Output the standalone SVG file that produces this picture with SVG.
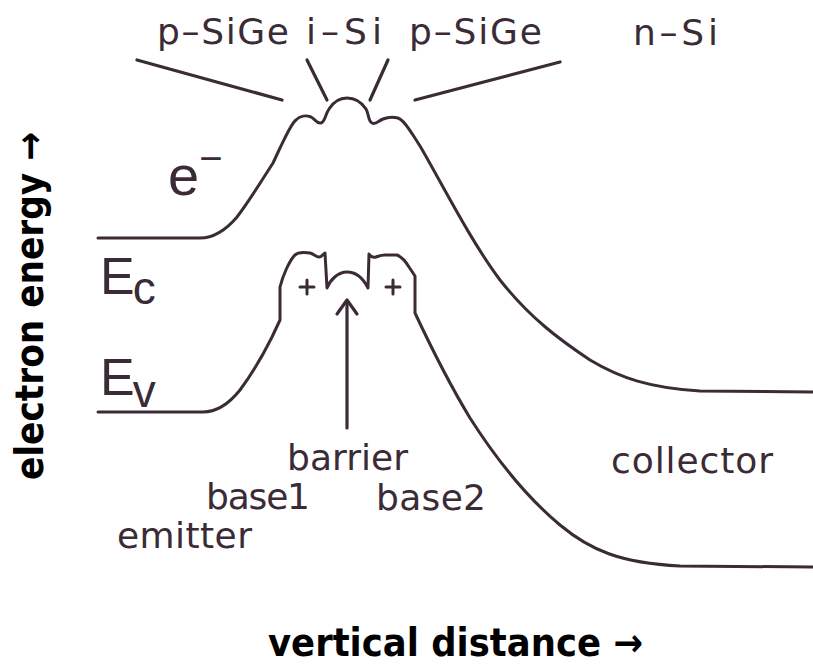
<svg xmlns="http://www.w3.org/2000/svg" width="813" height="666" viewBox="0 0 813 666">
<style>
.band{fill:none;stroke:#3a2b36;stroke-width:3;stroke-linejoin:round;stroke-linecap:round}
.lead{fill:none;stroke:#3a2b36;stroke-width:3.2;stroke-linecap:round}
.lbl{font-family:"DejaVu Sans","Liberation Sans",sans-serif;fill:#3a2b36}
.top{font-size:36px}
.low{font-size:36px}
.sym{font-family:"Liberation Sans","DejaVu Sans",sans-serif;fill:#3a2b36}
.axis{font-family:"DejaVu Sans","Liberation Sans",sans-serif;font-weight:bold;font-size:39px;fill:#000}
</style>
<rect width="813" height="666" fill="#fff"/>
<g id="bands">
<path id="conduction-band" class="band" d="M98,238 L200,238 C214,238 226,230 237,217 C250,200 262,180 273,163 L280,148 C286,136 291,124 296,120 C300,116 306,115 311,117 C315,119 317,124 321,123 C325,122 325,115 329,109 C334,101 340,98 347,98 C356,98 362,103 366,109 C369,114 368,121 372,123 C376,125 378,121 383,119 C388,117 394,117 398,118 C404,120 408,128 413,135 L420,146 C440,180 470,240 500,280 C530,318 560,340 590,360 C620,378 650,388 700,391 L813,392"/>
<path id="valence-band" class="band" d="M98,412 L203,412 C215,412 228,405 240,390 C252,374 262,357 272,337 L280,320 L280,287 C283,275 289,262 294,256 C297,252 303,252 310,253 C314,254 316,257 319,257 C322,257 323,254 325,253 L327,288 C330,280 338,272 347,272 C356,272 363,278 368,288 L369,254 C371,257 373,258 376,257 C379,256 381,255 385,255 L397,255 C402,257 406,262 409,267 L415,276 L415,313 C430,345 450,385 470,418 C500,465 530,500 560,525 C590,550 620,563 680,566 L813,567"/>
<path id="plus-left" class="band" d="M300,287 H314 M307,280 V294"/>
<path id="plus-right" class="band" d="M386,287 H400 M393,280 V294"/>
</g>
<g id="connectors">
<line class="lead" x1="137" y1="60" x2="282" y2="100"/>
<line class="lead" x1="307" y1="60" x2="327" y2="100"/>
<line class="lead" x1="388" y1="60" x2="370" y2="100"/>
<line class="lead" x1="415" y1="100" x2="560" y2="62"/>
<line class="lead" x1="347" y1="428" x2="347" y2="302"/>
<polyline class="lead" points="337,314 347,300 357,314" style="stroke-linejoin:round"/>
</g>
<g id="label-p-SiGe-1"><text class="lbl top" x="157" y="44" textLength="132" lengthAdjust="spacing">p–SiGe</text></g>
<g id="label-i-Si"><text class="lbl top" x="306" y="44" textLength="76" lengthAdjust="spacing">i–Si</text></g>
<g id="label-p-SiGe-2"><text class="lbl top" x="409" y="44" textLength="133" lengthAdjust="spacing">p–SiGe</text></g>
<g id="label-n-Si"><text class="lbl top" x="633" y="45" textLength="85" lengthAdjust="spacing">n–Si</text></g>
<g id="label-electron"><text class="sym" x="168" y="195" font-size="56">e<tspan font-size="40" dy="-23">−</tspan></text></g>
<g id="label-Ec"><text class="sym" x="100" y="294" font-size="52">E<tspan font-size="46" dx="-2" dy="10">c</tspan></text></g>
<g id="label-Ev"><text class="sym" x="100" y="395" font-size="52">E<tspan font-size="46" dx="-2" dy="12">v</tspan></text></g>
<g id="label-barrier"><text class="lbl low" x="287" y="470" textLength="121" lengthAdjust="spacing">barrier</text></g>
<g id="label-base1"><text class="lbl low" x="206" y="509" textLength="104" lengthAdjust="spacing">base1</text></g>
<g id="label-base2"><text class="lbl low" x="376" y="510" textLength="110" lengthAdjust="spacing">base2</text></g>
<g id="label-emitter"><text class="lbl low" x="117" y="548" textLength="135" lengthAdjust="spacing">emitter</text></g>
<g id="label-collector"><text class="lbl low" x="611" y="473" textLength="162" lengthAdjust="spacing">collector</text></g>
<g id="axis-y"><text class="axis" transform="translate(43,480) rotate(-90)" textLength="348" lengthAdjust="spacingAndGlyphs">electron energy →</text></g>
<g id="axis-x"><text class="axis" x="268" y="656" font-size="35" textLength="375" lengthAdjust="spacingAndGlyphs">vertical distance →</text></g>
</svg>
